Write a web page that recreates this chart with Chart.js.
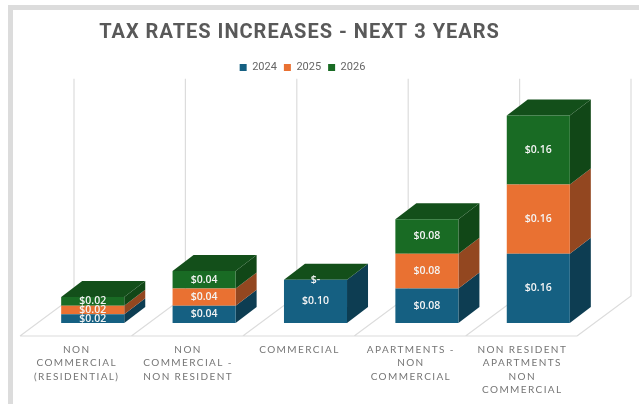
<!DOCTYPE html>
<html>
<head>
<meta charset="utf-8">
<script src="https://cdn.jsdelivr.net/npm/chart.js@4"></script>
<style>
  html, body { margin:0; padding:0; background:#fff; overflow:hidden; }
  #frame { position:absolute; left:8px; top:5px; width:639px; height:420px; box-sizing:border-box; border:5px solid #dcdcdc; }
  #wrap { position:absolute; left:0; top:0; width:639px; height:404px; }
</style>
</head>
<body>
<div id="frame"></div>
<div id="wrap"><canvas id="taxChart"></canvas></div>
<script>
const titleText = 'TAX RATES INCREASES - NEXT 3 YEARS';
const categories = [
  ['NON', 'COMMERCIAL', '(RESIDENTIAL)'],
  ['NON', 'COMMERCIAL -', 'NON RESIDENT'],
  ['COMMERCIAL'],
  ['APARTMENTS -', 'NON', 'COMMERCIAL'],
  ['NON RESIDENT', 'APARTMENTS', 'NON', 'COMMERCIAL']
];
const years = ['2024', '2025', '2026'];
const values2024 = [0.02, 0.04, 0.10, 0.08, 0.16];
const values2025 = [0.02, 0.04, null, 0.08, 0.16];
const values2026 = [0.02, 0.04, 0, 0.08, 0.16];
const frontColors = ['#156082', '#E97132', '#196B24'];
const sideColors = ['#0D3D52', '#934720', '#114717'];
const topColor = '#134F1A';
const gridColor = '#dcdcdc';

// fake 3d depth, in pixels
const depthX = 21, depthY = -16;
// back wall lines stop at this value, a little above the axis max
const wallTop = 0.565;

function money(v){
  return v === 0 ? '$-' : '$' + v.toFixed(2);
}

const floorAndWalls = {
  id: 'floorAndWalls',
  beforeDatasetsDraw(chart){
    const ctx = chart.ctx, area = chart.chartArea;
    const step = (area.right - area.left) / categories.length;
    const topY = chart.scales.y.getPixelForValue(wallTop);
    ctx.save();
    ctx.strokeStyle = gridColor;
    ctx.lineWidth = 1.2;
    ctx.beginPath();
    const frontY = area.bottom + 13, backY = area.bottom - 27;
    ctx.moveTo(area.left - 17, frontY);
    ctx.lineTo(area.right - 17, frontY);
    for(let i = 0; i <= categories.length; i++){
      const x = area.left - 17 + i * step;
      ctx.moveTo(x, frontY);
      ctx.lineTo(x + 54, backY);
      ctx.lineTo(x + 54, topY);
    }
    ctx.stroke();
    ctx.restore();
  }
};

const boxFaces = {
  id: 'boxFaces',
  beforeDatasetsDraw(chart){
    const ctx = chart.ctx;
    ctx.save();
    chart.data.datasets.forEach((ds, d) => {
      chart.getDatasetMeta(d).data.forEach((bar, i) => {
        if(ds.data[i] === null) return;
        const right = bar.x + bar.width / 2, left = bar.x - bar.width / 2;
        ctx.fillStyle = sideColors[d];
        ctx.beginPath();
        ctx.moveTo(right, bar.y);
        ctx.lineTo(right + depthX, bar.y + depthY);
        ctx.lineTo(right + depthX, bar.base + depthY);
        ctx.lineTo(right, bar.base);
        ctx.closePath();
        ctx.fill();
        if(d === chart.data.datasets.length - 1){
          ctx.fillStyle = topColor;
          ctx.beginPath();
          ctx.moveTo(left, bar.y);
          ctx.lineTo(left + depthX, bar.y + depthY);
          ctx.lineTo(right + depthX, bar.y + depthY);
          ctx.lineTo(right, bar.y);
          ctx.closePath();
          ctx.fill();
        }
      });
    });
    ctx.restore();
  }
};

const barLabels = {
  id: 'barLabels',
  afterDatasetsDraw(chart){
    const ctx = chart.ctx;
    ctx.save();
    ctx.font = '600 10.5px "Open Sans"';
    ctx.fillStyle = '#f4f4f4';
    ctx.textAlign = 'center';
    ctx.textBaseline = 'middle';
    chart.data.datasets.forEach((ds, d) => {
      chart.getDatasetMeta(d).data.forEach((bar, i) => {
        if(ds.data[i] === null) return;
        ctx.fillText(money(ds.data[i]), bar.x, (bar.y + bar.base) / 2);
      });
    });
    ctx.restore();
  }
};

// Chart.js has no letter spacing option, so set it on the context round the draw calls.
// The shift puts title and legend over the floor instead of over the bars.
const spacedText = {
  id: 'spacedText',
  beforeDraw(chart){
    if(chart.$spaced) return;
    chart.$spaced = true;
    const wrap = (box, name, spacing, shift) => {
      const orig = box[name].bind(box);
      box[name] = function(a){
        const ctx = chart.ctx;
        ctx.save();
        ctx.letterSpacing = spacing;
        ctx.translate(shift, 0);
        orig(a);
        ctx.restore();
      };
    };
    wrap(chart.titleBlock, 'draw', '1px', -16);
    wrap(chart.legend, 'draw', '0px', -13);
    wrap(chart.scales.x, 'drawLabels', '1.4px', 0);
  }
};

new Chart(document.getElementById('taxChart'), {
  type: 'bar',
  data: {
    labels: categories,
    datasets: [
      { label: years[0], data: values2024, backgroundColor: frontColors[0] },
      { label: years[1], data: values2025, backgroundColor: frontColors[1] },
      { label: years[2], data: values2026, backgroundColor: frontColors[2] }
    ]
  },
  options: {
    responsive: true,
    maintainAspectRatio: false,
    animation: false,
    layout: { padding: { left: 37, right: 45, top: 21, bottom: -5 } },
    datasets: { bar: { categoryPercentage: 0.566, barPercentage: 1 } },
    plugins: {
      tooltip: { enabled: false },
      title: {
        display: true,
        text: titleText,
        color: '#595959',
        font: { family: 'Roboto', size: 20, weight: 'bold' },
        padding: { top: 0, bottom: 10 }
      },
      legend: {
        position: 'top',
        labels: {
          boxWidth: 7, boxHeight: 7, padding: 7,
          color: '#666666',
          font: { family: 'Roboto', size: 11 }
        }
      }
    },
    scales: {
      x: {
        stacked: true,
        grid: { display: false },
        border: { display: false },
        ticks: {
          maxRotation: 0, autoSkip: false, labelOffset: -16, padding: 12,
          color: '#757575',
          font: { family: 'Lato', size: 10, lineHeight: 1.35 }
        }
      },
      y: {
        stacked: true,
        display: false,
        min: 0,
        max: 0.555
      }
    }
  },
  plugins: [floorAndWalls, boxFaces, barLabels, spacedText]
});
</script>
</body>
</html>
